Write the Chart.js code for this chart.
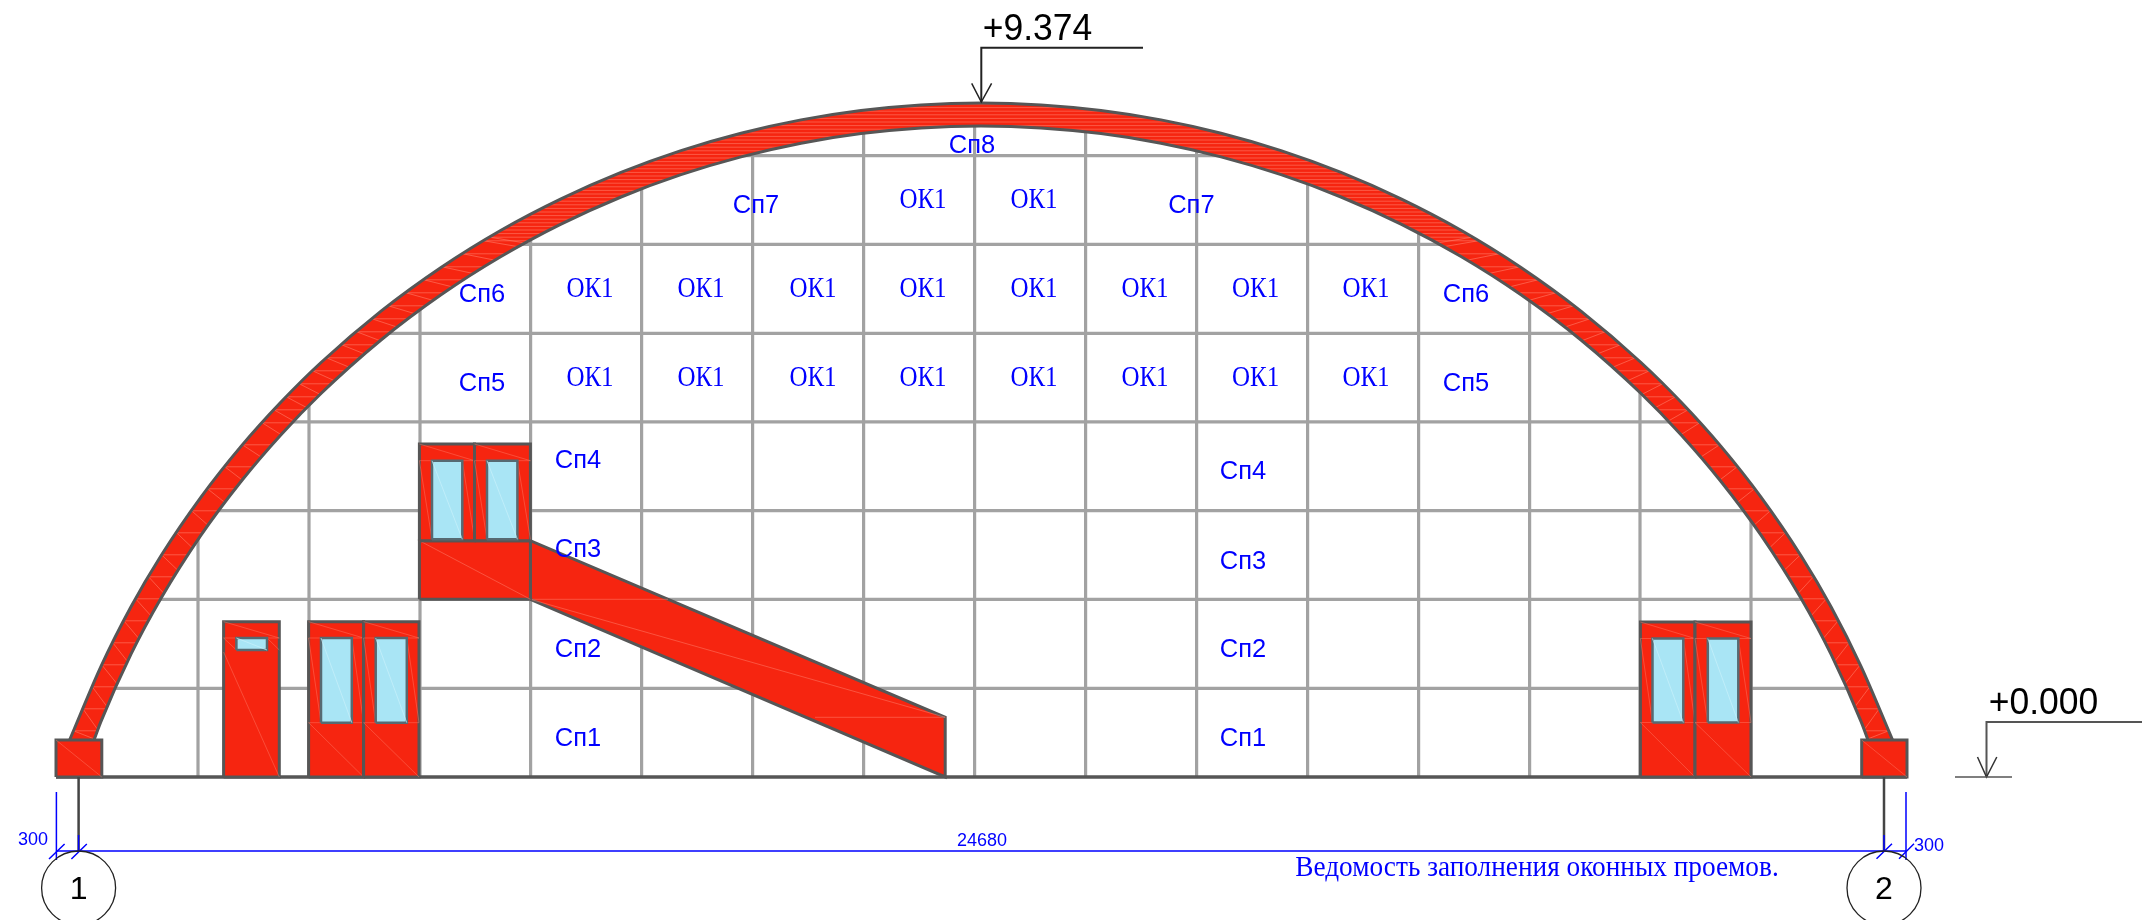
<!DOCTYPE html>
<html><head><meta charset="utf-8">
<style>html,body{margin:0;padding:0;background:#fff}#w{width:2142px;height:920px;position:relative}</style>
<script src="https://cdn.jsdelivr.net/npm/chart.js@4/dist/chart.umd.js"></script>
</head><body><div id="w"><canvas id="c"></canvas></div>
<script>
// ---- drawing data (x to the right, y downward, drawing units) ----
const archOuterX=[69.6,101,131,161,201,241,281,321,381,441,501,561,621,681,741,801,861,921,981,1041,1101,1161,1221,1281,1341,1401,1461,1521,1581,1641,1681,1721,1761,1801,1831,1861,1892.6];
const archOuterY=[740,666.3,606.7,555.7,497.1,446.4,402,362.5,311.1,267.4,230.2,198.8,172.4,150.6,133.2,119.9,110.5,104.9,103,104.9,110.5,119.9,133.2,150.6,172.4,198.8,230.2,267.4,311.1,362.5,402,446.4,497.1,555.7,606.7,666.3,740];
const archInnerX=[94,101,131,161,201,241,281,321,381,441,501,561,621,681,741,801,861,921,981,1041,1101,1161,1221,1281,1341,1401,1461,1521,1581,1641,1681,1721,1761,1801,1831,1861,1868];
const archInnerY=[740,721.4,654.2,598.3,535.2,481.5,434.7,393.5,340,294.8,256.5,224.1,197,174.7,156.9,143.2,133.6,127.9,126,127.9,133.6,143.2,156.9,174.7,197,224.1,256.5,294.8,340,393.5,434.7,481.5,535.2,598.3,654.2,721.4,740];
const gridX=[198,309,420,530.6,641.6,752.6,863.6,974.6,1085.6,1196.6,1307.6,1418.6,1529.6,1640,1751];
const gridTop=[537,402,306,237,186,150,130,123,129,147,180,230,297,389,517];
const gridY=[155.7,244.4,333.3,421.9,510.7,599.3,688.3];
const gridLeft=[742,518,386,290,215,158,112];
const gridRight=[1220,1444,1576,1672,1747,1804,1850];
const groundY=777;
const doorLeft=[223.6,308.6,363.6,419.4,474.5,1640.4,1695];
const doorRight=[279.3,363.6,419,474.5,530.4,1695,1751];
const doorTop=[621.7,621.7,621.7,444,444,622,622];
const doorBottom=[777,777,777,540.7,540.7,777,777];
const glassLeft=[236.4,321,375.7,432,487,1652.5,1707.8];
const glassRight=[267,351.8,406.8,462.3,517.4,1683.3,1738.3];
const glassTop=[638,638,638,460.7,460.7,638.5,638.5];
const glassBottom=[650,722.7,722.7,539.3,539.3,722.5,722.5];
const footLeft=[56,1861.7], footRight=[101.8,1907], footTop=[740,740], footBottom=[777,777];
const landingX=[419.4,530.4], landingY=[540.7,599.3];
const slideX=[530.4,530.4,945.2,945.2], slideY=[599.3,540.7,717.3,777];
const okText=['ОК1','ОК1','ОК1','ОК1','ОК1','ОК1','ОК1','ОК1','ОК1','ОК1','ОК1','ОК1','ОК1','ОК1','ОК1','ОК1','ОК1','ОК1'];
const okX=[923,1034,590,701,813,923,1034,1145,1255.6,1366,590,701,813,923,1034,1145,1255.6,1366];
const okY=[199,199,288,288,288,288,288,288,288,288,377,377,377,377,377,377,377,377];
const spText=['Сп1','Сп2','Сп3','Сп4','Сп5','Сп6','Сп7','Сп8','Сп7','Сп6','Сп5','Сп4','Сп3','Сп2','Сп1'];
const spX=[578,578,578,578,482,482,756,972,1191.4,1466,1466,1243,1243,1243,1243];
const spY=[737,648,548,459,382,293,204,144,204,293,382,470,560,648,737];
const levelText=['+9.374','+0.000'], levelX=[1037.5,2043.5], levelY=[27,701];
const axisText=['1','2'], axisX=[78.6,1884], axisY=[888,888];
const dimText=['300','24680','300'], dimX=[33,982,1929], dimY=[839,840,845];
const titleText='Ведомость заполнения оконных проемов.', titleX=1537, titleY=868;

// ---- colours ----
const RED='#f62510', GLASS='#a9e5f5', EDGE='#565656', GREY='#a2a2a2', BLUE='#0000ff', STREAK='rgba(255,125,105,0.75)';

const datasets=[];
const pts=(xs,ys)=>xs.map((x,i)=>({x,y:ys[i]}));
function add(data,o){datasets.push(Object.assign({data,pointRadius:0,borderWidth:0,fill:false,tension:0,order:-datasets.length,borderCapStyle:'butt',borderJoinStyle:'miter'},o));return datasets.length-1;}
const stroke=(data,color,w,extra)=>add(data,Object.assign({borderColor:color,borderWidth:w},extra||{}));
const poly=(xs,ys,color)=>add(pts(xs,ys),{fill:'shape',backgroundColor:color,borderColor:'rgba(0,0,0,0)',borderWidth:0});
function rect(l,r,t,b,color,edge,w){
  poly([l,l,r,r],[b,t,t,b],color);
  stroke(pts([l,l,r,r,l],[b,t,t,b,b]),edge,w);
}
function segs(list){const d=[];list.forEach(s=>{d.push({x:s[0],y:s[1]},{x:s[2],y:s[3]},{x:null,y:null});});return d;}
const SMOOTH={cubicInterpolationMode:'monotone'};

// grid
const gs=[];
gridX.forEach((x,i)=>gs.push([x,groundY,x,gridTop[i]]));
gridY.forEach((y,i)=>gs.push([gridLeft[i],y,gridRight[i],y]));
stroke(segs(gs),GREY,3.2);

// arch band : filled between outer and inner line
const innerFill=pts([69.6].concat(archInnerX,[1892.6]),[740].concat(archInnerY,[740]));
const innerIdx=datasets.length;
add(innerFill,Object.assign({borderColor:'rgba(0,0,0,0)',borderWidth:0},SMOOTH));
add(pts(archOuterX,archOuterY),Object.assign({fill:innerIdx,backgroundColor:RED,borderColor:'rgba(0,0,0,0)',borderWidth:0},SMOOTH));

// arch streaks: near-horizontal at the crown, cross hatching down the legs
function xOnArc(xs,ys,y,left){
  const n=xs.length, mid=(n-1)/2;
  for(let a=0;a<mid;a++){
    const i=left?a:n-1-a, j=left?a+1:n-2-a;
    if(y<=ys[i]&&y>=ys[j]){const f=(ys[i]-y)/((ys[i]-ys[j])||1);return xs[i]+(xs[j]-xs[i])*f;}
  }
  return null;
}
const hatch=[];
for(const left of [true,false]){
  let y=104;
  while(y<738){
    const ox=xOnArc(archOuterX,archOuterY,y,left);
    let ix=xOnArc(archInnerX,archInnerY,y,left);
    if(y<126){ix=981;}
    if(ox!==null&&ix!==null)hatch.push([ox,y,ix,y]);
    if(y>236){
      const d=6+16*(y-240)/500, y2=Math.min(739,y+d);
      const ix2=xOnArc(archInnerX,archInnerY,y2,left);
      if(ox!==null&&ix2!==null)hatch.push([ox,y,ix2,y2]);
    }
    y+= y<240?3.6:(y<420?13:22);
  }
}
stroke(segs(hatch),STREAK,0.8);
stroke(pts(archOuterX,archOuterY),EDGE,3,SMOOTH);
stroke(pts(archInnerX,archInnerY),EDGE,3,SMOOTH);

// ground line
stroke(pts([56,1907],[groundY,groundY]),EDGE,3.5);

// landing + slide
poly(slideX,slideY,RED);
stroke(pts(slideX.concat(slideX[0]),slideY.concat(slideY[0])),EDGE,3);
stroke(segs([[530.4,599.3,945.2,717.3],[530.4,599.3,668,599.3],[815,717.3,945.2,717.3]]),STREAK,0.7);
rect(landingX[0],landingX[1],landingY[0],landingY[1],RED,EDGE,3);
stroke(segs([[landingX[0],landingY[0],landingX[1],landingY[1]]]),STREAK,0.7);

// doors
doorLeft.forEach((l,i)=>{
  const r=doorRight[i],t=doorTop[i],b=doorBottom[i],gl=glassLeft[i],gr=glassRight[i],gt=glassTop[i],gb=glassBottom[i];
  rect(l,r,t,b,RED,EDGE,3);
  const ss=[[l,t,r,gt],[l,gt,gl,gt],[gr,gt,r,gt]];
  if(gb-gt<20){ss.push([l,gt,gl,gb],[gr,gt,r,gb],[l,gb+2,r,b]);}
  else{ss.push([l,gt,gl,gb],[gr,gt,r,gb]);if(b-gb>5)ss.push([l,gb,gl,gb],[gr,gb,r,gb],[l,gb,r,b]);}
  stroke(segs(ss),STREAK,0.6);
  rect(gl,gr,gt,gb,GLASS,'#566a72',2.5);
  stroke(segs([[gl,gt,gr,gb]]),'#c9f0fa',0.7);
});

// column feet
footLeft.forEach((l,i)=>{
  rect(l,footRight[i],footTop[i],footBottom[i],RED,EDGE,3);
  stroke(segs([[l,footTop[i],footRight[i],footBottom[i]]]),STREAK,0.6);
});

// axis stems
stroke(segs([[78.6,777,78.6,851],[1884,777,1884,851]]),'#444444',2.5);
// dimension lines
stroke(segs([[56.4,851,1906,851],[56.4,792,56.4,860],[1906,792,1906,860],[78.6,835,78.6,851],[1884,835,1884,851]]),BLUE,1.5);
stroke(segs([[49,859,64.6,844],[71.4,859,86.8,844],[1876.5,858.7,1892,843.7],[1899,858.7,1914,843.7]]),BLUE,1.5);
// level marks
stroke(pts([1143,981.3,981.3],[47.7,47.7,102]),'#222222',2);
stroke(pts([971.7,981.3,991.6],[83.3,102,83.3]),'#222222',1.5);
stroke(pts([2142,1986.5,1986.5],[722,722,777]),'#555555',2);
stroke(pts([1977.5,1986.5,1996.8],[757,777,757]),'#333333',1.5);
stroke(pts([1955,2012],[777,777]),'#555555',1.5);
// axis bubbles
axisX.forEach((x,i)=>add([{x,y:axisY[i]}],{showLine:false,pointRadius:37,pointHoverRadius:37,pointBackgroundColor:'rgba(0,0,0,0)',pointBorderColor:'#222222',pointBorderWidth:1.3,borderColor:'#222222'}));

const textPlugin={id:'texts',afterDatasetsDraw(ch){
  const c=ch.ctx,X=ch.scales.x,Y=ch.scales.y;
  c.save();c.textAlign='center';c.textBaseline='middle';
  const put=(t,xs,ys,font,col,dy,sy)=>{c.font=font;c.fillStyle=col;t.forEach((s,i)=>{
    c.save();c.translate(X.getPixelForValue(xs[i]),Y.getPixelForValue(ys[i])+dy);c.scale(1,sy);c.fillText(s,0,0);c.restore();});};
  put(okText,okX,okY,'25px "Liberation Serif"',BLUE,1.5,1.15);
  put(spText,spX,spY,'25.5px "Liberation Sans"',BLUE,1.5,1.04);
  put(levelText,levelX,levelY,'35.5px "Liberation Sans"','#000',2.5,1.04);
  put(axisText,axisX,axisY,'32px "Liberation Sans"','#000',2.5,1);
  put(dimText,dimX,dimY,'18px "Liberation Sans"',BLUE,1,1.05);
  put([titleText],[titleX],[titleY],'27.3px "Liberation Serif"',BLUE,0.5,1.05);
  c.restore();
}};

new Chart(document.getElementById('c'),{
  type:'line',
  data:{datasets},
  plugins:[textPlugin],
  options:{
    responsive:true,maintainAspectRatio:false,animation:false,
    layout:{padding:0,autoPadding:false},
    events:[],
    plugins:{legend:{display:false},tooltip:{enabled:false},title:{display:false}},
    scales:{
      x:{type:'linear',min:0,max:2142,display:false},
      y:{type:'linear',min:0,max:920,reverse:true,display:false}
    }
  }
});
</script></body></html>
